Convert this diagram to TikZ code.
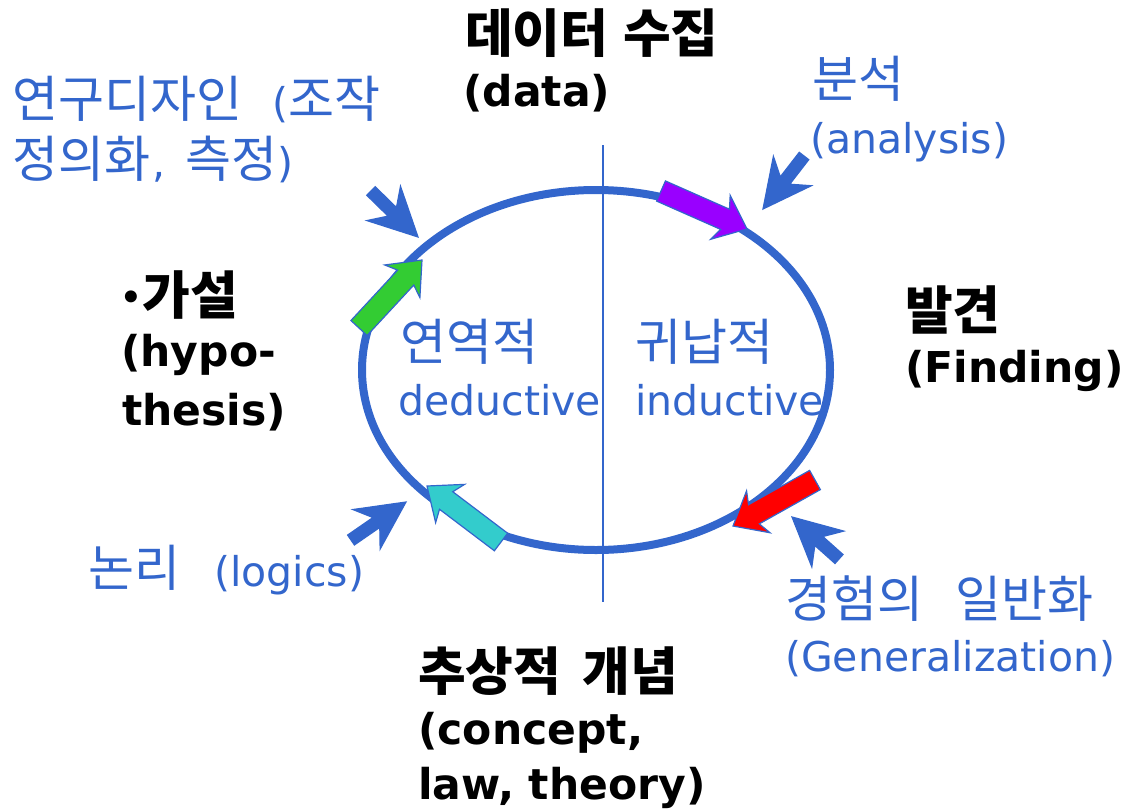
\documentclass[tikz,border=0pt]{standalone}
\usepackage{fontspec}
\setmainfont{DejaVu Sans}
\newfontfamily\kr[Scale=1.22]{Noto Sans CJK KR}
\usetikzlibrary{calc,shapes.geometric}
\definecolor{cblue}{RGB}{51,102,204}
\definecolor{cpurple}{RGB}{153,0,255}
\definecolor{cred}{RGB}{255,0,0}
\definecolor{ccyan}{RGB}{51,204,204}
\definecolor{cgreen}{RGB}{51,204,51}
% #1 tail, #2 tip, #3 fill, #4 half shaft, #5 half head, #6 head length, #7 neck length
\newcommand{\blockarr}[7]{%
  \coordinate (ba-h) at ($(#2)!#6!(#1)$);
  \coordinate (ba-n) at ($(#2)!#7!(#1)$);
  \filldraw[draw=cblue, line width=1.2pt, fill=#3, line join=miter]
    ($(#1)!#4!90:(#2)$) -- ($(ba-n)!#4!-90:(#1)$) -- ($(ba-h)!#5!-90:(#1)$) -- (#2)
    -- ($(ba-h)!#5!90:(#1)$) -- ($(ba-n)!#4!90:(#1)$) -- ($(#1)!#4!-90:(#2)$) -- cycle;
}
\begin{document}
\begin{tikzpicture}[x=1pt,y=-1pt,
  lbl/.style={anchor=base west, inner sep=0pt, font=\fontsize{41}{48}\selectfont, text=cblue},
  blbl/.style={anchor=base west, inner sep=0pt, font=\fontsize{42.5}{50}\selectfont\bfseries, text=black}]
\useasboundingbox (0,0) rectangle (1127,811);
% divider
\coordinate (vtop) at (603,145);
\coordinate (vbot) at (603,602);
\draw[cblue, line width=1.5pt] (vtop) -- (vbot);
% cycle
\node[ellipse, draw=cblue, line width=8pt, minimum width=468pt, minimum height=360pt, inner sep=0pt] (cyc) at (596,370) {};
% block arrows on the cycle
\coordinate (pT) at (661,191); \coordinate (pH) at (747,229);
\coordinate (rT) at (815,480); \coordinate (rH) at (733,526);
\coordinate (cT) at (501,542); \coordinate (cH) at (427,486);
\coordinate (gT) at (359,328); \coordinate (gH) at (422,260);
\blockarr{pT}{pH}{cpurple}{11pt}{24pt}{29pt}{24pt}
\blockarr{rT}{rH}{cred}{11pt}{24pt}{29pt}{24pt}
\blockarr{cT}{cH}{ccyan}{11pt}{24pt}{29pt}{24pt}
\blockarr{gT}{gH}{cgreen}{11pt}{24pt}{29pt}{24pt}
% pointer arrows
\coordinate (a1T) at (371,191); \coordinate (a1H) at (418,237);
\coordinate (a2T) at (804,156); \coordinate (a2H) at (763,209);
\coordinate (a3T) at (839,559); \coordinate (a3H) at (792,517);
\coordinate (a4T) at (351,540); \coordinate (a4H) at (406,502);
\blockarr{a1T}{a1H}{cblue}{6pt}{24pt}{48pt}{36pt}
\blockarr{a2T}{a2H}{cblue}{6pt}{24pt}{48pt}{36pt}
\blockarr{a3T}{a3H}{cblue}{6pt}{24pt}{48pt}{36pt}
\blockarr{a4T}{a4H}{cblue}{6pt}{24pt}{48pt}{36pt}
% black labels
\node[blbl] (data1) at (465,52) {{\kr 데이터} {\kr 수집}};
\node[blbl] (data2) at (463,106) {(data)};
\node[blbl] (hyp1) at (120,314) {\raisebox{5pt}{\fontsize{34}{34}\selectfont •}\hspace{1pt}{\kr 가설}};
\node[blbl] (hyp2) at (121,366) {(hypo-};
\node[blbl] (hyp3) at (122,425) {thesis)};
\node[blbl] (fin1) at (905,329) {{\kr 발견}};
\node[blbl] (fin2) at (905,382) {(Finding)};
\node[blbl] (con1) at (418,690) {{\kr 추상적}\hspace{0.5em}{\kr 개념}};
\node[blbl] (con2) at (418,744) {(concept,};
\node[blbl] (con3) at (418,799) {law, theory)};
% blue labels
\node[lbl] (des1) at (12,117) {{\kr 연구디자인}\hspace{30pt}({\kr 조작}};
\node[lbl] (des2) at (12,177) {{\kr 정의화}\hspace{2pt},\hspace{20pt}{\kr 측정})};
\node[lbl] (ana1) at (812,97) {{\kr 분석}};
\node[lbl] (ana2) at (810,153) {(analysis)};
\node[lbl] (ded1) at (400,360) {{\kr 연역적}};
\node[lbl] (ded2) at (398,415) {deductive};
\node[lbl] (ind1) at (635,360) {{\kr 귀납적}};
\node[lbl] (ind2) at (635,415) {inductive};
\node[lbl] (log) at (88,586) {{\kr 논리}\hspace{34pt}(logics)};
\node[lbl] (gen1) at (785,617) {{\kr 경험의}\hspace{32pt}{\kr 일반화}};
\node[lbl] (gen2) at (785,671) {(Generalization)};
\end{tikzpicture}
\end{document}
